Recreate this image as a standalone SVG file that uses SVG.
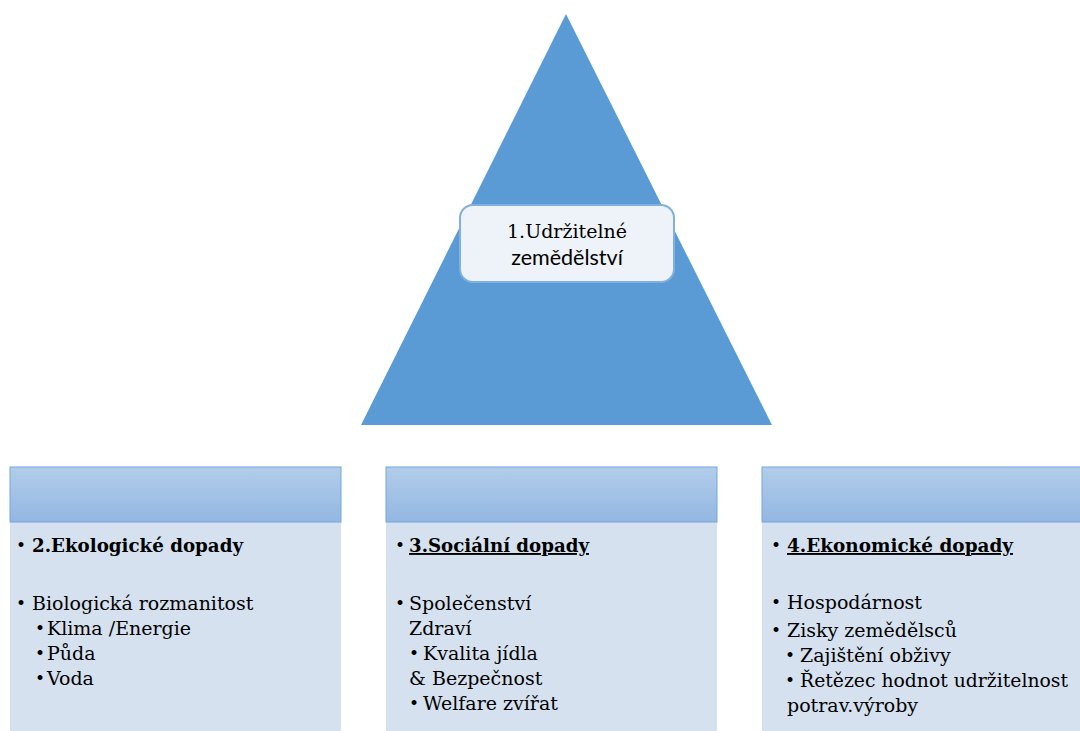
<svg xmlns="http://www.w3.org/2000/svg" width="1080" height="731" viewBox="0 0 1080 731">
<defs>
<linearGradient id="hg" x1="0" y1="0" x2="0" y2="1">
<stop offset="0" stop-color="#B2CDEA"/>
<stop offset="1" stop-color="#93B7E2"/>
</linearGradient>
<style>
.t{font-family:'DejaVu Serif',serif;font-size:19px;fill:#000}
.d{font-family:'DejaVu Serif',serif;font-size:17px;fill:#000}
.b{font-weight:bold}
.u{text-decoration:underline}
.s{font-family:Lato,'DejaVu Sans',sans-serif;font-size:21.5px;fill:#000}
.hd{fill:url(#hg);stroke:#74A5DE;stroke-width:1}
.bd{fill:#D5E1EF}
</style>
</defs>
<rect width="1080" height="731" fill="#fff"/>
<g id="pyramid">
<polygon points="566,14 361,425 772,425" fill="#5B9BD5"/>
<rect x="460" y="205" width="214" height="77" rx="13" fill="#EEF3F9" stroke="#7FB0E0" stroke-width="2"/>
<text class="t" x="567" y="238" text-anchor="middle">1.Udržitelné</text>
<text class="s" x="567" y="265" text-anchor="middle">zemědělství</text>
</g>
<g id="eco">
<rect class="bd" x="10" y="522" width="331" height="209"/>
<rect class="hd" x="10" y="467" width="331" height="55"/>
<text class="d" x="16" y="551">•</text>
<text class="t b" x="32" y="552" textLength="211" lengthAdjust="spacingAndGlyphs">2.Ekologické dopady</text>
<text class="d" x="16" y="609">•</text>
<text class="t" x="32" y="610">Biologická rozmanitost</text>
<text class="d" x="35" y="634">•</text>
<text class="t" x="47" y="635">Klima /Energie</text>
<text class="d" x="35" y="659">•</text>
<text class="t" x="47" y="660">Půda</text>
<text class="d" x="35" y="684">•</text>
<text class="t" x="47" y="685">Voda</text>
</g>
<g id="soc">
<rect class="bd" x="386" y="522" width="331" height="209"/>
<rect class="hd" x="386" y="467" width="331" height="55"/>
<text class="d" x="395" y="551">•</text>
<text class="t b u" x="409" y="552" textLength="180" lengthAdjust="spacingAndGlyphs">3.Sociální dopady</text>
<text class="d" x="395" y="609">•</text>
<text class="t" x="409" y="610">Společenství</text>
<text class="t" x="409" y="635">Zdraví</text>
<text class="d" x="409" y="659">•</text>
<text class="t" x="423" y="660">Kvalita jídla</text>
<text class="t" x="409" y="685">&amp; Bezpečnost</text>
<text class="d" x="409" y="709">•</text>
<text class="t" x="423" y="710">Welfare zvířat</text>
</g>
<g id="econ">
<rect class="bd" x="762" y="522" width="318" height="209"/>
<rect class="hd" x="762" y="467" width="330" height="55"/>
<text class="d" x="771" y="551">•</text>
<text class="t b u" x="787" y="552" textLength="226" lengthAdjust="spacingAndGlyphs">4.Ekonomické dopady</text>
<text class="d" x="771" y="608">•</text>
<text class="t" x="787" y="609">Hospodárnost</text>
<text class="d" x="771" y="636">•</text>
<text class="t" x="787" y="637">Zisky zemědělsců</text>
<text class="d" x="785" y="661">•</text>
<text class="t" x="800" y="662">Zajištění obživy</text>
<text class="d" x="785" y="686">•</text>
<text class="t" x="800" y="687" textLength="268" lengthAdjust="spacingAndGlyphs">Řetězec hodnot udržitelnost</text>
<text class="t" x="787" y="712">potrav.výroby</text>
</g>
<g id="connectors"/>
</svg>
